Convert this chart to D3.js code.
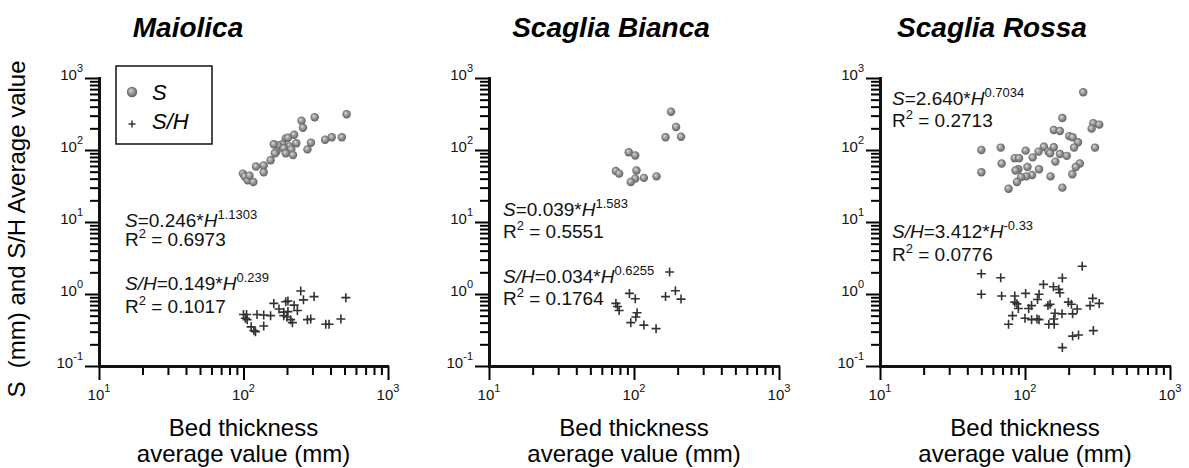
<!DOCTYPE html>
<html>
<head>
<meta charset="utf-8">
<script src="https://cdn.jsdelivr.net/npm/d3@7.9.0/dist/d3.min.js"></script>
<style>
  body { margin: 0; background: #fff; }
  svg { display: block; font-family: "Liberation Sans", Arial, Helvetica, sans-serif; }
</style>
</head>
<body>
<svg id="chart" width="1189" height="468"></svg>
<script>
// values: [bed thickness H (mm), value]
const maiolicaS = [[517,313],[311,285],[252,255],[258,204],[408,150],[367,139],[479,150],[224,163],[196,145],[203,148],[232,124],[208,112],[186,120],[174,116],[162,120],[190,106],[214,102],[196,90],[220,85],[169,95],[165,90],[293,126],[277,102],[154,72],[138,61],[138,49],[122,59],[99,47],[102,43],[107,38],[117,36],[110,44]];
const maiolicaSH = [[249,1.10],[260,0.83],[308,0.92],[511,0.89],[162,0.74],[196,0.78],[203,0.80],[224,0.70],[176,0.62],[236,0.59],[100,0.52],[105,0.52],[124,0.52],[138,0.51],[154,0.50],[190,0.56],[203,0.57],[190,0.50],[200,0.48],[103,0.46],[106,0.44],[212,0.44],[218,0.40],[138,0.36],[113,0.35],[118,0.31],[121,0.30],[277,0.44],[292,0.45],[371,0.38],[391,0.38],[472,0.45]];

const biancaS = [[180,340],[195,209],[165,150],[211,153],[92,93],[102,84],[75,51],[79,47],[104,52],[102,40],[95,36],[117,41],[143,43]];
const biancaSH = [[176,2.02],[93,1.02],[102,0.86],[165,0.92],[193,1.11],[211,0.85],[75,0.74],[77,0.67],[79,0.59],[105,0.55],[103,0.48],[95,0.40],[117,0.37],[142,0.33]];

const rossaS = [[252,633],[181,278],[296,235],[325,225],[288,198],[158,190],[174,184],[202,156],[213,150],[232,128],[218,108],[304,108],[50,100],[68,108],[101,98],[135,111],[158,109],[124,95],[145,95],[149,90],[174,88],[194,83],[113,79],[85,77],[91,77],[162,69],[69,65],[239,65],[224,58],[104,58],[90,54],[86,52],[125,54],[50,49],[112,45],[102,43],[94,42],[150,43],[212,46],[88,36],[181,30],[77,29]];
const rossaSH = [[248,2.43],[50,1.91],[68,1.68],[181,1.67],[134,1.36],[157,1.26],[171,1.16],[174,1.04],[50,0.99],[69,0.94],[85,0.94],[101,1.02],[125,0.99],[122,0.84],[293,0.87],[85,0.77],[88,0.73],[199,0.77],[209,0.72],[325,0.74],[281,0.69],[149,0.72],[144,0.69],[111,0.69],[90,0.63],[106,0.63],[229,0.62],[161,0.54],[180,0.53],[213,0.53],[82,0.50],[100,0.46],[111,0.44],[121,0.45],[125,0.44],[158,0.45],[146,0.38],[159,0.38],[77,0.38],[213,0.26],[234,0.27],[296,0.31],[181,0.18]];

const titles = ["Maiolica", "Scaglia Bianca", "Scaglia Rossa"];
const sCoef = ["0.246", "0.039", "2.640"];
const sExp = ["1.1303", "1.583", "0.7034"];
const sR2 = ["0.6973", "0.5551", "0.2713"];
const shCoef = ["0.149", "0.034", "3.412"];
const shExp = ["0.239", "0.6255", "-0.33"];
const shR2 = ["0.1017", "0.1764", "0.0776"];

const xDomain = [10, 1000];
const yDomain = [0.1, 1000];

// layout
const panels = [
  { s: maiolicaS, sh: maiolicaSH, x0: 99, x1: 388, titleX: 188,
    eqS: [125, 227, 246], eqSH: [125, 290, 313] },
  { s: biancaS, sh: biancaSH, x0: 489, x1: 779, titleX: 611,
    eqS: [503, 216, 238], eqSH: [503, 283, 305] },
  { s: rossaS, sh: rossaSH, x0: 880, x1: 1170, titleX: 992,
    eqS: [892, 105, 127], eqSH: [892, 238, 261] }
];
const yTop = 78, yBottom = 366;

const svg = d3.select("#chart");

const defs = svg.append("defs");
const grad = defs.append("radialGradient").attr("id", "ball")
  .attr("cx", "50%").attr("cy", "50%").attr("r", "55%")
  .attr("fx", "36%").attr("fy", "33%");
grad.append("stop").attr("offset", "0%").attr("stop-color", "#dcdcdc");
grad.append("stop").attr("offset", "45%").attr("stop-color", "#9c9c9c");
grad.append("stop").attr("offset", "100%").attr("stop-color", "#555");

// tick values for log axes
const majorX = [10, 100, 1000];
const minorX = [];
[10, 100].forEach(d => { for (let k = 2; k <= 9; k++) minorX.push(d * k); });
const majorY = [0.1, 1, 10, 100, 1000];
const minorY = [];
[0.1, 1, 10, 100].forEach(d => { for (let k = 2; k <= 9; k++) minorY.push(+(d * k).toPrecision(3)); });

const expOf = v => Math.round(Math.log10(v));

// writes text made of parts: {t, i (italic), sup}
function richText(g, x, y, size, supSize, parts) {
  const txt = g.append("text").attr("x", x).attr("y", y)
    .attr("font-size", size).attr("fill", "#111");
  let up = false;
  parts.forEach(p => {
    const ts = txt.append("tspan").text(p.t);
    if (p.i) ts.attr("font-style", "italic");
    if (p.sup && !up) { ts.attr("dy", -8).attr("font-size", supSize); up = true; }
    else if (p.sup) ts.attr("font-size", supSize);
    else if (up) { ts.attr("dy", 8); up = false; }
  });
  return txt;
}

panels.forEach((p, i) => {
  const x = d3.scaleLog().domain(xDomain).range([p.x0, p.x1]);
  const y = d3.scaleLog().domain(yDomain).range([yBottom, yTop]);
  const g = svg.append("g");

  // title
  g.append("text").attr("x", p.titleX).attr("y", 37)
    .attr("text-anchor", "middle").attr("font-size", 28)
    .attr("font-weight", "bold").attr("font-style", "italic")
    .text(titles[i]);

  // axes: short minor ticks, long major ticks (stroke width inherited from the group)
  const xa = g.append("g").attr("stroke-width", 2).attr("transform", `translate(0,${yBottom})`);
  xa.call(d3.axisBottom(x).tickValues(minorX).tickSize(9).tickSizeOuter(0).tickFormat(() => ""));
  xa.append("g").call(d3.axisBottom(x).tickValues(majorX).tickSize(14).tickSizeOuter(0).tickFormat(() => ""));
  const ya = g.append("g").attr("stroke-width", 2).attr("transform", `translate(${p.x0},0)`);
  ya.call(d3.axisLeft(y).tickValues(minorY).tickSize(9).tickSizeOuter(0).tickFormat(() => ""));
  ya.append("g").call(d3.axisLeft(y).tickValues(majorY).tickSize(14).tickSizeOuter(0).tickFormat(() => ""));

  // heavy axis lines over the scale range
  g.append("line").attr("x1", x.range()[0] - 1).attr("x2", x.range()[1] + 1)
    .attr("y1", yBottom + 0.5).attr("y2", yBottom + 0.5)
    .attr("stroke", "#111").attr("stroke-width", 3);
  g.append("line").attr("x1", p.x0 + 0.5).attr("x2", p.x0 + 0.5)
    .attr("y1", y.range()[1] - 1).attr("y2", y.range()[0] + 2)
    .attr("stroke", "#111").attr("stroke-width", 3);

  // tick labels as 10^n
  majorX.forEach(v => {
    richText(g, x(v), yBottom + 34, 15, 11, [{ t: "10" }, { t: String(expOf(v)), sup: true }])
      .attr("text-anchor", "middle");
  });
  majorY.forEach(v => {
    richText(g, p.x0 - 16, y(v) + 2, 15, 11, [{ t: "10" }, { t: String(expOf(v)), sup: true }])
      .attr("text-anchor", "end");
  });

  // x axis title
  g.append("text").attr("x", (p.x0 + p.x1) / 2).attr("y", 436)
    .attr("text-anchor", "middle").attr("font-size", 24).text("Bed thickness");
  g.append("text").attr("x", (p.x0 + p.x1) / 2).attr("y", 462)
    .attr("text-anchor", "middle").attr("font-size", 24).text("average value (mm)");

  // S/H crosses
  g.append("g").selectAll("path").data(p.sh).join("path")
    .attr("transform", d => `translate(${x(d[0])},${y(d[1])})`)
    .attr("d", "M-4.5,0H4.5M0,-4.5V4.5")
    .attr("stroke", "#333").attr("stroke-width", 1.6).attr("fill", "none");

  // S spheres
  g.append("g").selectAll("circle").data(p.s).join("circle")
    .attr("cx", d => x(d[0])).attr("cy", d => y(d[1])).attr("r", 4.2)
    .attr("fill", "url(#ball)");

  // regression equations
  richText(g, p.eqS[0], p.eqS[1], 19, 13, [
    { t: "S", i: true }, { t: "=" + sCoef[i] + "*" }, { t: "H", i: true }, { t: sExp[i], sup: true }]);
  richText(g, p.eqS[0], p.eqS[2], 19, 13, [
    { t: "R" }, { t: "2", sup: true }, { t: " = " + sR2[i] }]);
  richText(g, p.eqSH[0], p.eqSH[1], 19, 13, [
    { t: "S/H", i: true }, { t: "=" + shCoef[i] + "*" }, { t: "H", i: true }, { t: shExp[i], sup: true }]);
  richText(g, p.eqSH[0], p.eqSH[2], 19, 13, [
    { t: "R" }, { t: "2", sup: true }, { t: " = " + shR2[i] }]);
});

// y axis title
svg.append("text").attr("transform", "translate(25,229) rotate(-90)")
  .attr("text-anchor", "middle").attr("font-size", 24)
  .attr("xml:space", "preserve")
  .text("S  (mm) and S/H Average value");

// legend
const lg = svg.append("g");
lg.append("rect").attr("x", 116).attr("y", 66).attr("width", 96).attr("height", 78)
  .attr("fill", "#fff").attr("stroke", "#111").attr("stroke-width", 1.5);
lg.append("circle").attr("cx", 132).attr("cy", 92).attr("r", 5.2).attr("fill", "url(#ball)");
lg.append("text").attr("x", 152).attr("y", 100).attr("font-size", 22)
  .attr("font-style", "italic").text("S");
lg.append("path").attr("transform", "translate(132,124)").attr("d", "M-3.5,0H3.5M0,-3.5V3.5")
  .attr("stroke", "#333").attr("stroke-width", 1.5);
lg.append("text").attr("x", 152).attr("y", 129).attr("font-size", 22)
  .attr("font-style", "italic").text("S/H");
</script>
</body>
</html>
